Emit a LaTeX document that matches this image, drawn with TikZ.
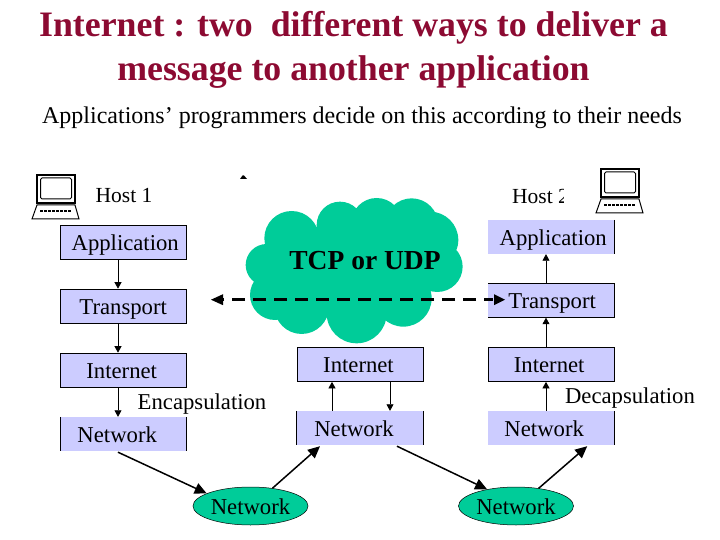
\documentclass[tikz,border=0pt]{standalone}
\usepackage{fontspec}
\setmainfont{Liberation Serif}
\usetikzlibrary{arrows.meta,shapes.geometric,calc}
\definecolor{titlered}{RGB}{140,10,50}
\definecolor{boxblue}{RGB}{204,204,255}
\definecolor{cloudgreen}{RGB}{0,204,153}
\newcommand{\fsz}[1]{\fontsize{#1}{#1}\selectfont}
\newcommand{\boxtext}[2]{\hspace*{#1pt}\raisebox{-8pt}[0pt][0pt]{#2}}
\tikzset{
  layerfill/.style={fill=boxblue,minimum width=126pt,minimum height=34pt,inner sep=0pt,font=\fsz{22.7}},
  layer/.style={layerfill,draw=black,line width=0.7pt},
  edge/.style={line width=0.7pt},
  flow/.style={line width=0.7pt,-{Triangle[length=6.5pt,width=7pt]}},
  hop/.style={line width=1.5pt,-{Triangle[length=12pt,width=11pt]}},
  netcloud/.style={ellipse,fill=cloudgreen,draw=black,line width=0.5pt,minimum width=115pt,minimum height=38pt,inner sep=0pt,font=\fsz{22.7}},
  plain/.style={inner sep=0pt,font=\fsz{22.7}},
  host/.style={inner sep=0pt,font=\fsz{21.5}},
  pc/.style={line width=1.4pt,draw=black,fill=white},
}
\begin{document}
\begin{tikzpicture}[x=1pt,y=-1pt]
\useasboundingbox (0,0) rectangle (720,540);
% titles
\node[inner sep=0pt,text=titlered,font=\bfseries\fontsize{35.8}{43.5}\selectfont,align=center] (title) at (353.5,50)
  {Internet : two\hspace{0.25em} different ways to deliver a\\message to another application};
\node[inner sep=0pt,font=\fsz{24}] (subtitle) at (362,117.5) {Applications’ programmers decide on this according to their needs};
% cloud
\begin{scope}[shift={(230,160)},x=0.3333pt,y=-0.3333pt]
  \fill[cloudgreen] (185,235) circle[radius=82] (330,195) circle[radius=70] (440,190) circle[radius=76]
    (545,195) circle[radius=80] (600,240) circle[radius=85] (622,320) circle[radius=76]
    (520,415) circle[radius=85] (380,460) circle[radius=90] (215,440) circle[radius=82]
    (135,405) circle[radius=75] (110,315) circle[radius=63];
  \fill[cloudgreen] (185,235) -- (330,195) -- (440,190) -- (545,195) -- (600,240) -- (622,320)
    -- (520,415) -- (380,460) -- (215,440) -- (135,405) -- (110,315) -- cycle;
\end{scope}
\node[inner sep=0pt,font=\bfseries\fsz{27.5}] (cloudlabel) at (365,261) {TCP or UDP};
% stray mark
\fill (240,179) -- (247,179) -- (244,175.5) -- (242.5,175.5) -- cycle;
% left column
\node[layer] (app1) at (123.2,242.5) {\boxtext{4}{Application}};
\node[layer] (tr1) at (123.2,306) {\boxtext{0}{Transport}};
\node[layer] (int1) at (123.2,370) {\boxtext{-3}{Internet}};
\node[layerfill] (net1) at (123.2,434) {\boxtext{-12}{Network}};
\draw[edge] (net1.north west) -- (net1.south west) (net1.north east) -- (net1.south east);
% middle column
\node[layer] (int2) at (360,364.5) {\boxtext{-3}{Internet}};
\node[layerfill] (net2) at (360,428) {\boxtext{-12}{Network}};
\draw[edge] (net2.north west) -- (net2.south west) (net2.north east) -- (net2.south east);
% right column
\node[layerfill] (app3) at (551.2,237) {\boxtext{4}{Application}};
\draw[edge] (app3.north east) -- (app3.south east);
\node[layerfill] (tr3) at (551.2,300.5) {\boxtext{2}{Transport}};
\draw[edge] (tr3.north west) -- (tr3.north east) -- (tr3.south east) -- (tr3.south west);
\node[layer] (int3) at (551.2,364.5) {\boxtext{-4}{Internet}};
\node[layerfill] (net3) at (551.2,428) {\boxtext{-14}{Network}};
\draw[edge] (net3.north east) -- (net3.south east);
% labels
\node[plain] (enc) at (202,404) {Encapsulation};
\node[plain] (dec) at (630,398) {Decapsulation};
\node[host] (h1) at (124,196) {Host 1};
\begin{scope}
  \clip (505,180) rectangle (563,212);
  \node[host] (h2) at (540.5,196) {Host 2};
\end{scope}
% computers
\foreach \px/\py in {32/175,596/169}{
  \begin{scope}[shift={(\px,\py)}]
    \draw[pc] (5,0) rectangle (43,28);
    \draw[line width=1pt,rounded corners=1.5pt] (8.5,3) rectangle (39.5,24);
    \draw[line width=1pt,fill=white] (5,30) -- (43,30) -- (47,44) -- (0,44) -- cycle;
    \draw[line width=1.2pt,dash pattern=on 3pt off 1pt] (8,36) -- (40,36);
  \end{scope}
}
% connectors
\draw[flow] ([xshift=-5.2pt]app1.south) -- ([xshift=-5.2pt]tr1.north);
\draw[flow] ([xshift=-5.2pt]tr1.south) -- ([xshift=-5.2pt]int1.north);
\draw[flow] ([xshift=-5.2pt]int1.south) -- ([xshift=-5.2pt]net1.north);
\draw[flow] ([xshift=-28pt]net2.north) -- ([xshift=-28pt]int2.south);
\draw[flow] ([xshift=30pt]int2.south) -- ([xshift=30pt]net2.north);
\draw[flow] ([xshift=-5.2pt]net3.north) -- ([xshift=-5.2pt]int3.south);
\draw[flow] ([xshift=-5.2pt]int3.north) -- ([xshift=-5.2pt]tr3.south);
\draw[flow] ([xshift=-5.2pt]tr3.north) -- ([xshift=-5.2pt]app3.south);
\node[netcloud] (cl1) at (250.5,506) {\boxtext{0}{Network}};
\node[netcloud] (cl2) at (516,506) {\boxtext{0}{Network}};
\draw[hop] ([xshift=-5.2pt,yshift=-1pt]net1.south) -- (cl1.164);
\draw[hop] (cl1.39) -- ([xshift=-40pt,yshift=-1pt]net2.south);
\draw[hop] ([xshift=37pt,yshift=-1pt]net2.south) -- (cl2.150);
\draw[hop] (cl2.38) -- ([xshift=36pt,yshift=-1pt]net3.south);
% dashed protocol line
\coordinate (dl) at (211,299.7);
\coordinate (dr) at (505,299.7);
\draw[line width=3.3pt,dash pattern=on 13pt off 8pt,dash phase=4pt] ($(dr)+(-12,0)$) -- ($(dl)+(10,0)$);
\fill (dl) -- ++(12,-5.5) -- ++(0,11) -- cycle;
\fill (dr) -- ++(-11,-5.5) -- ++(0,11) -- cycle;
\end{tikzpicture}
\end{document}
